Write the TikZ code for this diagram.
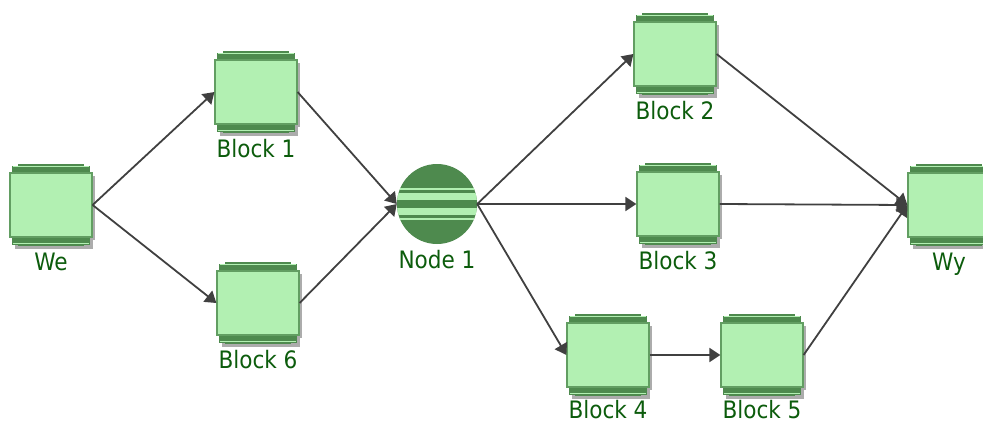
\documentclass[tikz,border=0pt]{standalone}
\usepackage{fontspec}
\setmainfont{DejaVu Sans Condensed}
\usetikzlibrary{arrows.meta}
\definecolor{bodyfill}{RGB}{178,240,178}
\definecolor{darkg}{RGB}{78,138,78}
\definecolor{midg}{RGB}{98,158,98}
\definecolor{txtg}{RGB}{12,92,12}
\definecolor{linec}{RGB}{64,64,64}
\definecolor{shad}{RGB}{172,172,172}
\tikzset{
  blockbody/.style={draw=midg, line width=1.2pt, fill=bodyfill, minimum width=82pt, minimum height=64pt, inner sep=0pt},
  lbl/.style={text=txtg, font=\fontsize{24}{28}\selectfont, anchor=base, inner sep=0pt},
  conn/.style={draw=linec, line width=1.8pt, -{Triangle[length=11pt,width=14pt]}},
  hubnode/.style={circle, fill=darkg, minimum size=80pt, inner sep=0pt},
}
\newcommand\myblock[5]{%
  \begin{scope}[shift={(#2,#3)}]
    \fill[shad] (-38,-29) rectangle (44,35);
    \fill[shad] (-36,35) rectangle (42,44);
    \fill[shad] (-30,-36) rectangle (36,-29);
    \fill[darkg] (-33,-41) rectangle (33,-39.5);
    \fill[darkg] (-39,-39.5) rectangle (39,-32);
    \fill[bodyfill] (-38,-38.9) rectangle (38,-38);
    \fill[darkg] (-33,41) rectangle (33,39.5);
    \fill[darkg] (-39,39.5) rectangle (39,32);
    \fill[bodyfill] (-38,38.9) rectangle (38,38);
  \end{scope}
  \node[blockbody] (#1) at (#2,#3) {};
  \node[lbl] (#1-l) at (#2,#3+#5) {#4};
}
\begin{document}
\begin{tikzpicture}[x=1pt,y=-1pt]
\useasboundingbox (0,0) rectangle (983,423);
\clip (0,0) rectangle (983,423);
\myblock{we}{51}{205}{We}{65.5}
\myblock{b1}{256}{92}{Block 1}{65.5}
\myblock{b6}{258}{303}{Block 6}{65.5}
\myblock{b2}{675}{54}{Block 2}{65.5}
\myblock{b3}{678}{204}{Block 3}{65.5}
\myblock{b4}{608}{355}{Block 4}{63.5}
\myblock{b5}{762}{355}{Block 5}{63.5}
\myblock{wy}{949}{205}{Wy}{65.5}
% hub node
\node[hubnode] (n1) at (437,204) {};
\begin{scope}
  \clip (437,204) circle (40);
  \fill[bodyfill] (396,-15.7+204) rectangle (478,-14.3+204);
  \fill[bodyfill] (396,-11+204) rectangle (478,-4+204);
  \fill[bodyfill] (396,4+204) rectangle (478,11+204);
  \fill[bodyfill] (396,14.3+204) rectangle (478,15.7+204);
\end{scope}
\node[lbl] (n1-l) at (437,268) {Node 1};
% connectors
\draw[conn] (we.east) -- (b1.west);
\draw[conn] (we.east) -- (b6.west);
\draw[conn] (b1.east) -- (n1.west);
\draw[conn] (b6.east) -- (n1.west);
\draw[conn] (n1.east) -- (b2.west);
\draw[conn] (n1.east) -- (b3.west);
\draw[conn] (n1.east) -- (b4.west);
\draw[conn] (b4.east) -- (b5.west);
\draw[conn] (b2.east) -- (wy.west);
\draw[conn] (b3.east) -- (wy.west);
\draw[conn] (b5.east) -- (wy.west);
\end{tikzpicture}
\end{document}
